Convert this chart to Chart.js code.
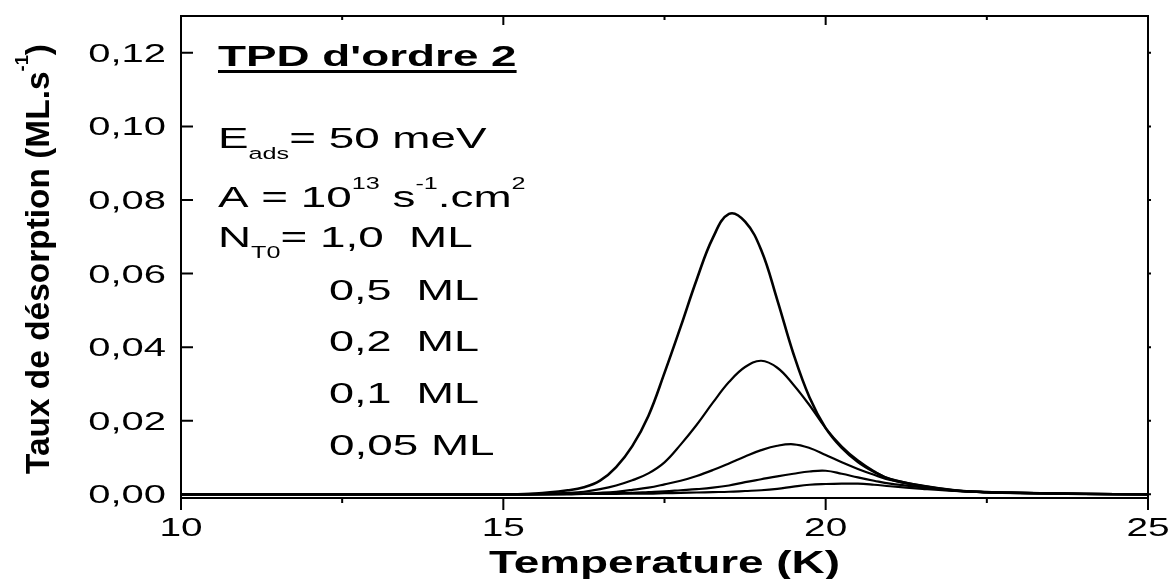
<!DOCTYPE html>
<html>
<head>
<meta charset="utf-8">
<title>TPD d'ordre 2</title>
<script src="https://cdn.jsdelivr.net/npm/chart.js@4/dist/chart.umd.min.js"></script>
<style>
  html, body { margin: 0; padding: 0; background: #fff; }
  #wrap { width: 1171px; height: 579px; }
</style>
</head>
<body>
<div id="wrap"><canvas id="tpd"></canvas></div>
<script>
// Temperature grid (K)
const temps = [10, 14, 15, 15.5, 16, 16.25, 16.5, 16.75, 17, 17.25, 17.5, 17.75, 18, 18.25, 18.5, 18.75, 19, 19.25, 19.5, 19.75, 20, 20.25, 20.5, 20.75, 21, 21.5, 22, 22.5, 23, 24, 25];

// Desorption rate (ML.s-1), one array per initial coverage
const rate10 = [0, 0, 0, 0.0002, 0.0011, 0.0019, 0.0037, 0.0074, 0.0131, 0.0213, 0.0330, 0.0455, 0.0584, 0.0697, 0.0762, 0.0741, 0.0664, 0.0528, 0.0382, 0.0263, 0.0180, 0.0126, 0.0088, 0.0061, 0.0041, 0.0023, 0.0011, 0.0006, 0.0004, 0.0001, 0];
const rate05 = [0, 0, 0, 0.0001, 0.0004, 0.0007, 0.0014, 0.0024, 0.0038, 0.0057, 0.0087, 0.0135, 0.0189, 0.0249, 0.0305, 0.0346, 0.0363, 0.0344, 0.0298, 0.0242, 0.0180, 0.0130, 0.0092, 0.0063, 0.0042, 0.0023, 0.0011, 0.0006, 0.0004, 0.0001, 0];
const rate02 = [0, 0, 0, 0, 0.0001, 0.0002, 0.0004, 0.0007, 0.0012, 0.0018, 0.0027, 0.0037, 0.0050, 0.0066, 0.0084, 0.0103, 0.0120, 0.0132, 0.0136, 0.0126, 0.0107, 0.0087, 0.0069, 0.0053, 0.0039, 0.0022, 0.0010, 0.0006, 0.0004, 0.0001, 0];
const rate01 = [0, 0, 0, 0, 0.0001, 0.0001, 0.0002, 0.0003, 0.0004, 0.0006, 0.0008, 0.0011, 0.0014, 0.0018, 0.0024, 0.0033, 0.0041, 0.0049, 0.0056, 0.0062, 0.0064, 0.0056, 0.0046, 0.0037, 0.0029, 0.0019, 0.0010, 0.0006, 0.0004, 0.0001, 0];
const rate005 = [0, 0, 0, 0, 0, 0.0001, 0.0001, 0.0001, 0.0002, 0.0002, 0.0003, 0.0004, 0.0005, 0.0006, 0.0007, 0.0009, 0.0011, 0.0015, 0.0021, 0.0026, 0.0028, 0.0029, 0.0029, 0.0026, 0.0022, 0.0015, 0.0009, 0.0005, 0.0003, 0.0001, 0];

const seriesNames = ["1,0 ML", "0,5 ML", "0,2 ML", "0,1 ML", "0,05 ML"];

// Axis ticks
const xMajor = [10, 15, 20, 25];
const xMinor = [12.5, 17.5, 22.5];
const yTicks = [0, 0.02, 0.04, 0.06, 0.08, 0.10, 0.12];
const yTickLabels = ["0,00", "0,02", "0,04", "0,06", "0,08", "0,10", "0,12"];

const FONT = "'Liberation Sans', Arial, sans-serif";
const SX = 1.55; // the original figure is stretched horizontally

// draw a line of text made of normal / sub / sup parts, stretched horizontally
function richText(ctx, parts, x, y, size, weight, sx, align) {
    const small = size * 0.55;
    ctx.save();
    ctx.translate(x, y);
    ctx.scale(sx, 1);
    let total = 0;
    const widths = parts.map(([t, mode]) => {
        ctx.font = `${weight} ${mode === "n" ? size : small}px ${FONT}`;
        const w = ctx.measureText(t).width;
        total += w;
        return w;
    });
    let cx = align === "right" ? -total : align === "center" ? -total / 2 : 0;
    ctx.textAlign = "left";
    ctx.textBaseline = "alphabetic";
    parts.forEach(([t, mode], i) => {
        ctx.font = `${weight} ${mode === "n" ? size : small}px ${FONT}`;
        const dy = mode === "sub" ? size * 0.38 : mode === "sup" ? -size * 0.62 : 0;
        ctx.fillText(t, cx, dy);
        cx += widths[i];
    });
    ctx.restore();
    return total * sx;
}

const framePlugin = {
    id: "frame",
    afterDraw(chart) {
        const ctx = chart.ctx;
        const area = chart.chartArea;
        const xs = chart.scales.x;
        const ys = chart.scales.y;
        ctx.save();
        ctx.fillStyle = "#000";
        ctx.strokeStyle = "#000";

        // box
        ctx.lineWidth = 2;
        ctx.strokeRect(area.left, area.top, area.right - area.left, area.bottom - area.top);

        // x ticks: outward at the bottom, inward at the top
        ctx.beginPath();
        xMajor.forEach(v => {
            const px = xs.getPixelForValue(v);
            ctx.moveTo(px, area.bottom); ctx.lineTo(px, area.bottom + 12);
            ctx.moveTo(px, area.top); ctx.lineTo(px, area.top + 9);
        });
        xMinor.forEach(v => {
            const px = xs.getPixelForValue(v);
            ctx.moveTo(px, area.bottom); ctx.lineTo(px, area.bottom + 5);
            ctx.moveTo(px, area.top); ctx.lineTo(px, area.top + 4);
        });
        // y ticks: inward on the left, small outward on the right
        yTicks.forEach(v => {
            const py = ys.getPixelForValue(v);
            ctx.moveTo(area.left, py); ctx.lineTo(area.left + 12, py);
            ctx.moveTo(area.right, py); ctx.lineTo(area.right + 3, py);
        });
        ctx.stroke();

        // tick labels
        xMajor.forEach(v => {
            richText(ctx, [[String(v), "n"]], xs.getPixelForValue(v), 536, 25, "normal", SX, "center");
        });
        yTicks.forEach((v, i) => {
            richText(ctx, [[yTickLabels[i], "n"]], 166, ys.getPixelForValue(v) + 9, 25, "normal", 1.6, "right");
        });

        // axis titles
        richText(ctx, [["Temperature (K)", "n"]], (area.left + area.right) / 2, 573, 31, "bold", 1.48, "center");

        const yParts = [["Taux de désorption (ML.s", "n"], ["-1", "sup"], [")", "n"]];
        ctx.save();
        let w = 0;
        yParts.forEach(([t, m]) => {
            ctx.font = `bold ${m === "n" ? 34 : 34 * 0.55}px ${FONT}`;
            w += ctx.measureText(t).width;
        });
        ctx.translate(49, (area.top + area.bottom) / 2 + 2);
        ctx.rotate(-Math.PI / 2);
        richText(ctx, yParts, 0, 0, 34, "bold", 430 / w, "center");
        ctx.restore();

        // annotations
        const tw = richText(ctx, [["TPD d'ordre 2", "n"]], 218, 66, 29, "bold", 1.58, "left");
        ctx.fillRect(218, 70, tw, 3);
        richText(ctx, [["E", "n"], ["ads", "sub"], ["= 50 meV", "n"]], 218, 148, 29, "normal", 1.58, "left");
        richText(ctx, [["A = 10", "n"], ["13", "sup"], [" s", "n"], ["-1", "sup"], [".cm", "n"], ["2", "sup"]], 218, 207, 29, "normal", 1.58, "left");
        richText(ctx, [["N", "n"], ["T0", "sub"], ["= 1,0  ML", "n"]], 218, 247, 29, "normal", 1.58, "left");
        richText(ctx, [["0,5  ML", "n"]], 329, 300, 29, "normal", SX, "left");
        richText(ctx, [["0,2  ML", "n"]], 329, 351, 29, "normal", SX, "left");
        richText(ctx, [["0,1  ML", "n"]], 329, 403, 29, "normal", SX, "left");
        richText(ctx, [["0,05 ML", "n"]], 329, 455, 29, "normal", 1.58, "left");

        ctx.restore();
    }
};

const allRates = [rate10, rate05, rate02, rate01, rate005];

const datasets = allRates.map((r, i) => ({
    label: seriesNames[i],
    data: temps.map((t, k) => ({ x: t, y: r[k] })),
    borderColor: "#000",
    borderWidth: i === 0 ? 2.6 : 2.2,
    pointRadius: 0,
    fill: false,
    tension: 0.4
}));

const ctx = document.getElementById("tpd").getContext("2d");
new Chart(ctx, {
    type: "line",
    data: { datasets: datasets },
    options: {
        responsive: true,
        maintainAspectRatio: false,
        animation: false,
        layout: { padding: { left: 181, right: 23, top: 16, bottom: 81 } },
        plugins: {
            legend: { display: false },
            tooltip: { enabled: false }
        },
        scales: {
            x: { type: "linear", min: 10, max: 25, display: false },
            y: { min: -0.001, max: 0.13, display: false }
        }
    },
    plugins: [framePlugin]
});
</script>
</body>
</html>
